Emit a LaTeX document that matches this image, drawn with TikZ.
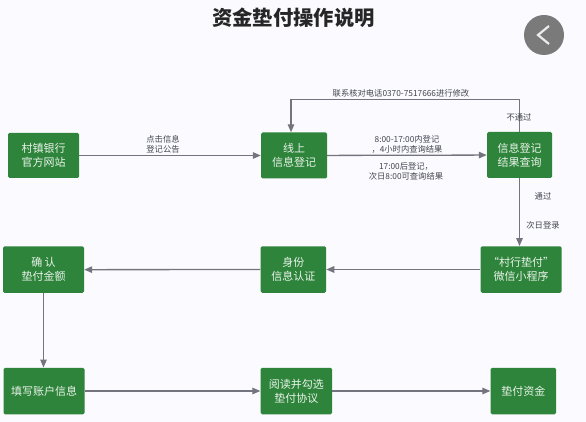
\documentclass[tikz,border=0pt]{standalone}
\usepackage{fontspec}
\setmainfont{Noto Sans CJK SC}
\usepackage{tikz}
\usetikzlibrary{arrows.meta, positioning}
\definecolor{boxgreen}{HTML}{2E843A}
\definecolor{linegray}{HTML}{74747E}
\definecolor{labelgray}{HTML}{44444F}
\tikzset{
  flowbox/.style={draw=none, fill=boxgreen, rounded corners=1.5pt, inner sep=0pt, text=white!90!boxgreen,
    font=\fontsize{11}{14}\selectfont, align=center},
  flowline/.style={draw=linegray, line width=1.3pt, -{Triangle[length=8pt,width=6.5pt]}},
  flowlabel/.style={text=labelgray, font=\fontsize{8.3}{10}\selectfont, align=center, inner sep=0pt}
}
\begin{document}
\begin{tikzpicture}[x=1pt,y=-1pt]
\useasboundingbox[fill=white!98!blue] (0,0) rectangle (586,422);

% Title and the round back button
\node[font=\fontsize{20.3}{24}\selectfont\bfseries, text=black!85, inner sep=0pt] (title) at (293.5,18) {资金垫付操作说明};
\fill[black!52] (544,35) circle(20);
\draw[white!92!black, line width=2.2pt] (549,26) -- (538,35) -- (549,44);

% Boxes, first row
\node[flowbox, minimum width=71pt, minimum height=45pt] (bank) at (43.5,155.5) {村镇银行\\官方网站};
\node[flowbox, minimum width=66pt, minimum height=46pt] (online) at (294,155.5) {线上\\信息登记};
\node[flowbox, minimum width=65pt, minimum height=46pt] (result) at (519.5,155) {信息登记\\结果查询};

% Boxes, second row
\node[flowbox, minimum width=81pt, minimum height=46.5pt] (confirm) at (43.5,269.7) {确 认\\垫付金额};
\node[flowbox, minimum width=65.5pt, minimum height=46.5pt] (identity) at (293.3,269.5) {身份\\信息认证};
\node[flowbox, minimum width=81pt, minimum height=46.5pt] (wechat) at (521,269.5) {“村行垫付”\\微信小程序};

% Boxes, third row
\node[flowbox, minimum width=81pt, minimum height=46.5pt] (account) at (44,391) {填写账户信息};
\node[flowbox, minimum width=71.5pt, minimum height=46.5pt] (agree) at (296.3,391) {阅读并勾选\\垫付协议};
\node[flowbox, minimum width=65.5pt, minimum height=46.5pt] (fund) at (523.3,391) {垫付资金};

% Connectors
\draw[flowline] (bank) -- (online);
\draw[flowline] (online) -- (result);
\draw[flowline] (result.north) -- ++(0,-32) -| ([xshift=-3pt]online.north);
\draw[flowline] (result.south) -- ([xshift=-1.5pt]wechat.north);
\draw[flowline] (wechat) -- (identity);
\draw[flowline] (identity) -- (confirm);
\draw[flowline] (confirm) -- (confirm |- account.north);
\draw[flowline] (account) -- (agree);
\draw[flowline] (agree) -- (fund);

% Labels
\node[flowlabel] (notice) at (163,144) {点击信息\\登记公告};
\node[flowlabel] (phone) at (401,93) {联系核对电话0370-7517666进行修改};
\node[flowlabel] (fail) at (519,117) {不通过};
\node[flowlabel] (before) at (407,144) {8:00-17:00内登记\\，4小时内查询结果};
\node[flowlabel] (after) at (406,171) {17:00后登记，\\次日8:00可查询结果};
\node[flowlabel] (pass) at (543,196) {通过};
\node[flowlabel] (nextday) at (543,225) {次日登录};

\end{tikzpicture}
\end{document}
